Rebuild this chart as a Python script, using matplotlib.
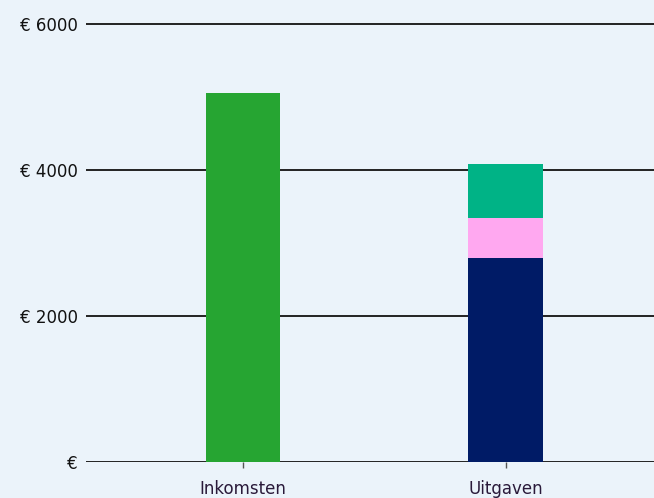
import numpy as np
import matplotlib.pyplot as plt

# --- data ---
categories = ["Inkomsten", "Uitgaven"]
inkomsten = [5050, 0]
uitgaven_base = [0, 2790]      # navy
uitgaven_mid = [0, 550]        # pink
uitgaven_top = [0, 740]        # teal

y_ticks = [0, 2000, 4000, 6000]
y_labels = ["\u20ac", "\u20ac 2000", "\u20ac 4000", "\u20ac 6000"]

BG = "#EBF3FA"

fig = plt.figure(figsize=(6.54, 4.98), dpi=100, facecolor=BG)
ax = fig.add_axes([86 / 654, 36 / 498, 1 - 86 / 654, 462 / 498])
ax.set_facecolor(BG)

x = np.arange(len(categories))
w = 0.285

ax.bar(x[0], inkomsten[0], width=w, color="#26A532", zorder=3)
ax.bar(x[1], uitgaven_base[1], width=w, color="#001B66", zorder=3)
ax.bar(x[1], uitgaven_mid[1], width=w, bottom=uitgaven_base[1], color="#FFA8F0", zorder=3)
ax.bar(x[1], uitgaven_top[1], width=w, bottom=uitgaven_base[1] + uitgaven_mid[1],
       color="#00B386", zorder=3)

ax.set_xlim(-0.597, 1.563)
ax.set_ylim(0, 6000 * 462 / 438)

ax.set_yticks(y_ticks)
ax.set_yticklabels(y_labels)
ax.set_xticks(x)
ax.set_xticklabels(categories)

for y in y_ticks:
    ax.axhline(y, color="#222222", lw=1.4, zorder=2)

for s in ax.spines.values():
    s.set_visible(False)

ax.tick_params(axis="y", length=0, pad=6, labelsize=12, labelcolor="#111111")
ax.tick_params(axis="x", length=4, width=1, color="#555555", pad=9,
               labelsize=12, labelcolor="#2a1a3a")

fig.savefig("out.png", dpi=100, facecolor=BG)
